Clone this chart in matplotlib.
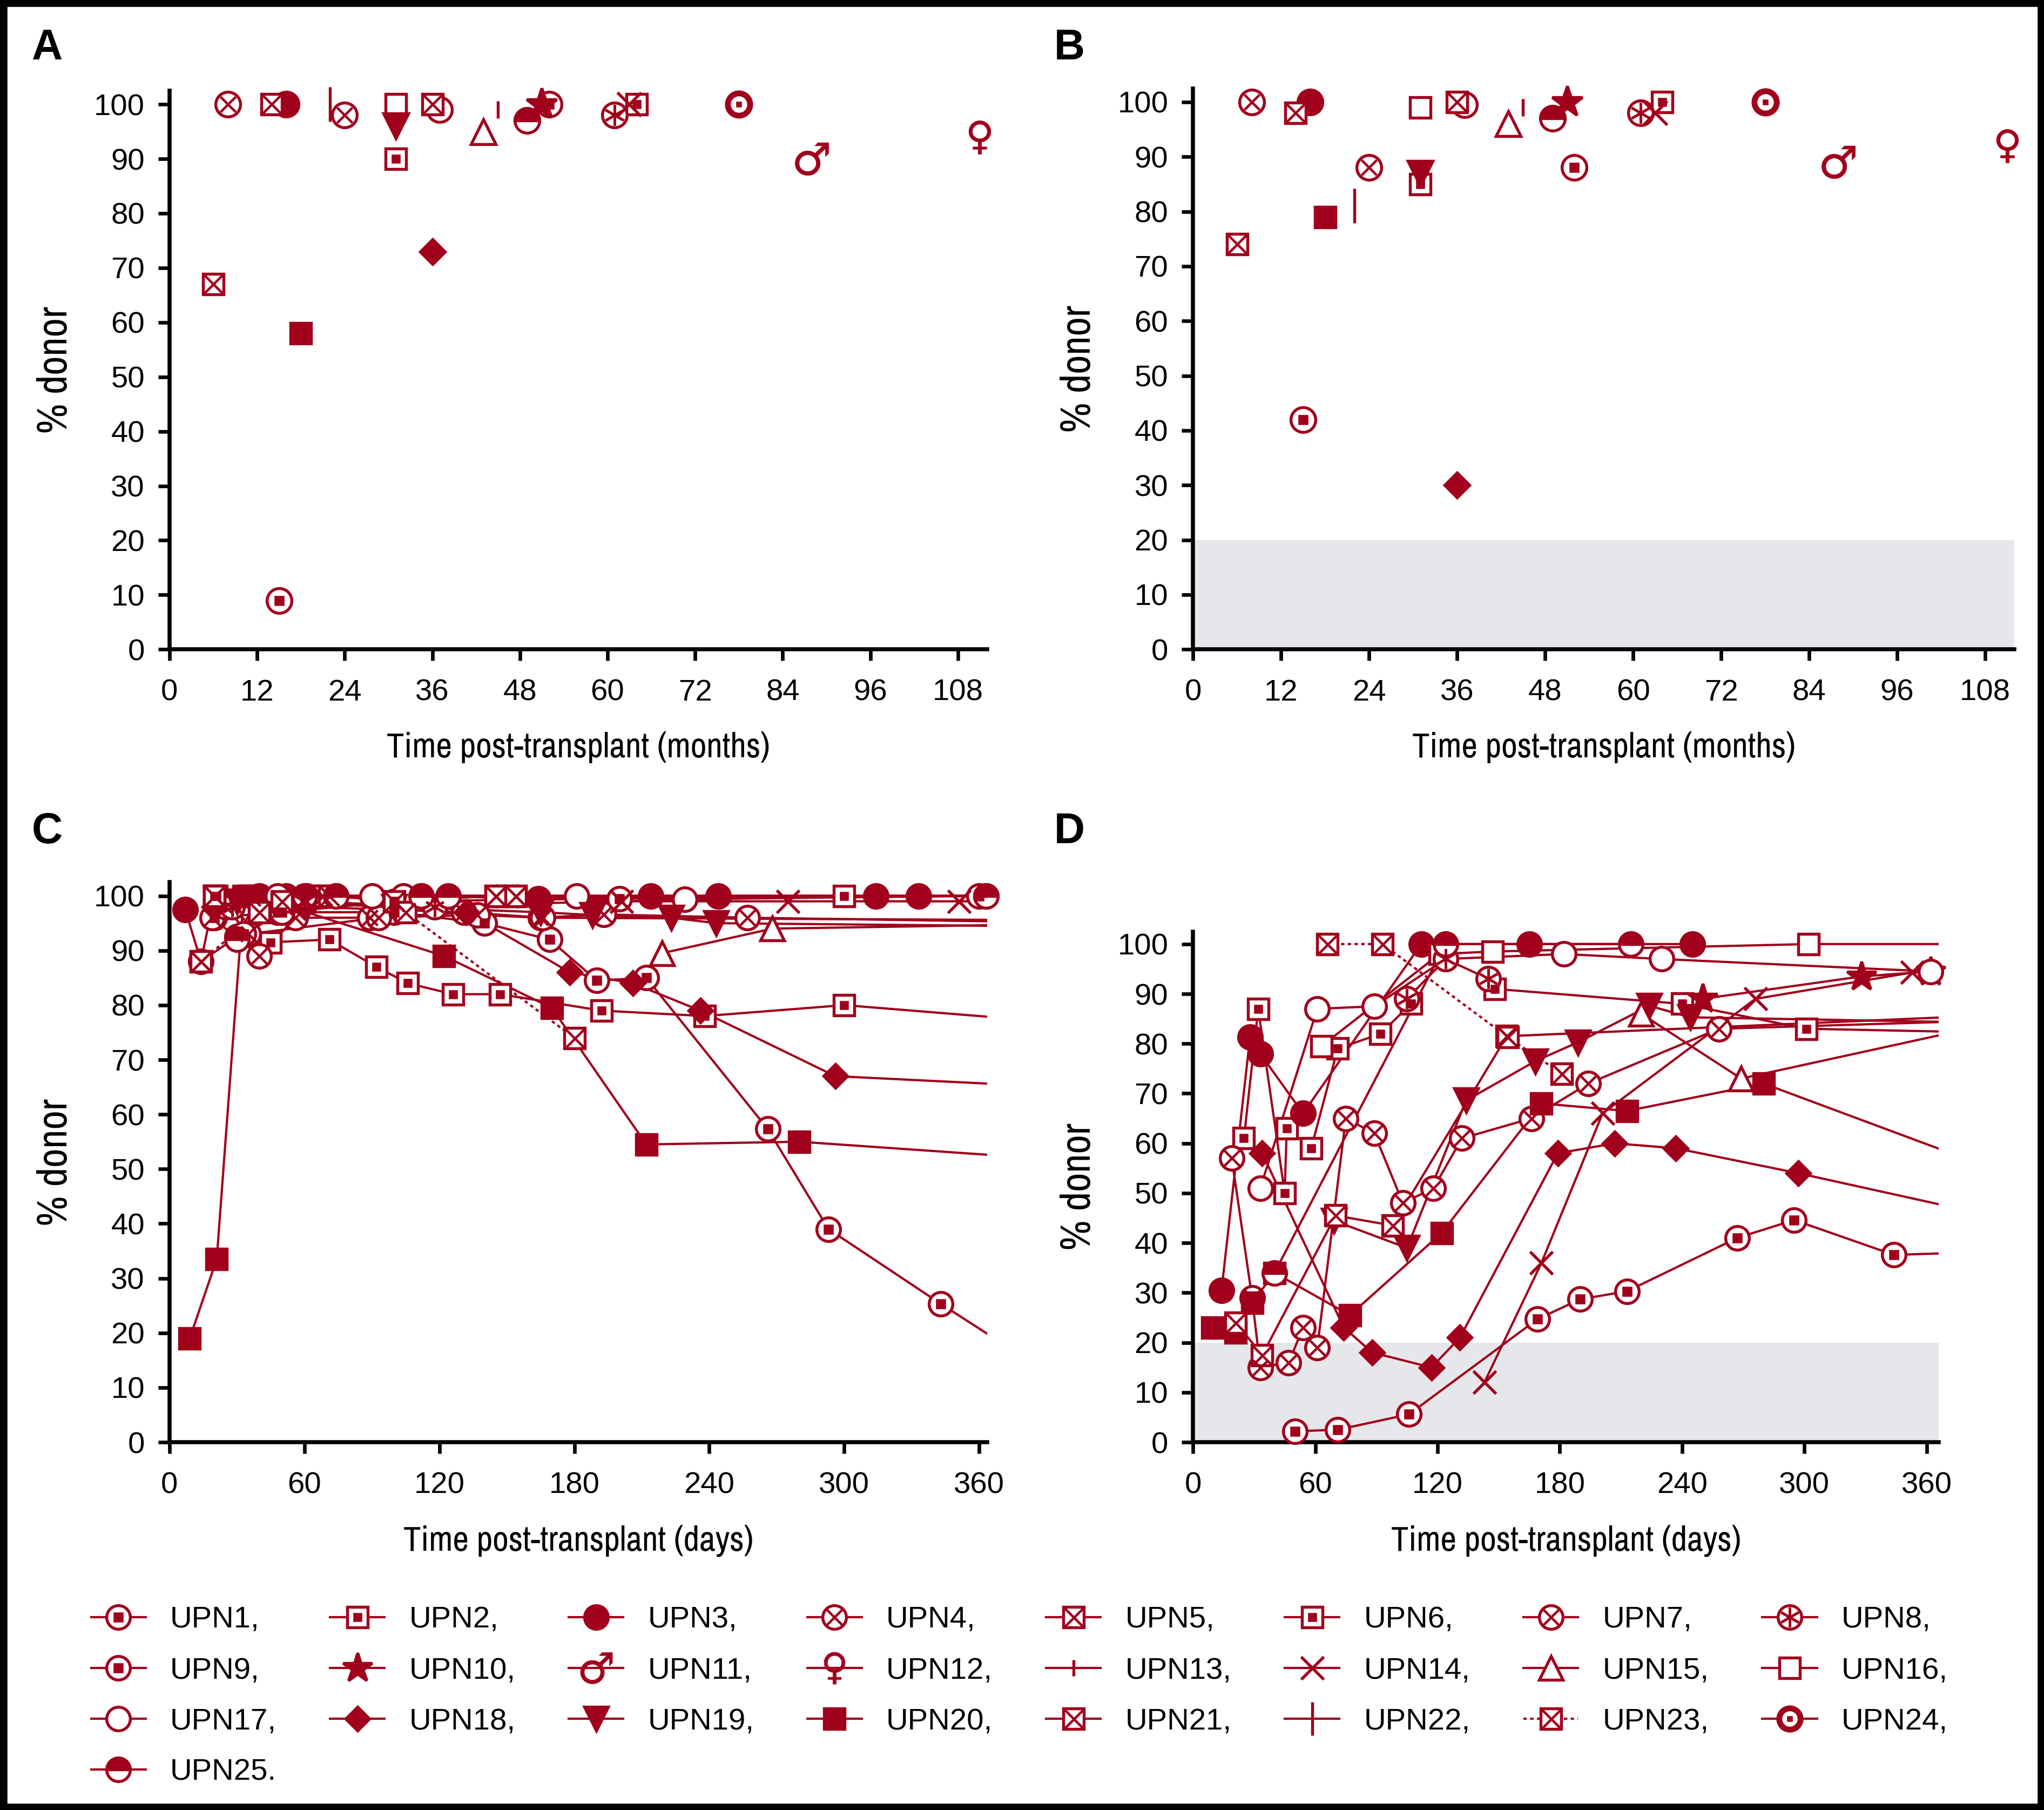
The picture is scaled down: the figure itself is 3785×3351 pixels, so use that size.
"""Donor chimerism per patient: static compartments (A, B) and kinetics (C, D)."""

import matplotlib
matplotlib.use("Agg")
import matplotlib.pyplot as plt
from matplotlib import font_manager
from matplotlib.legend_handler import HandlerTuple
from matplotlib.lines import Line2D
from matplotlib.patches import Rectangle

RED = "#a1001c"
BAND = "#e6e7ea"

# ---- panels A / B: last follow-up (months) and % donor, UPN1..UPN25 ----
UPN = list(range(1, 26))
AB_MONTHS = [52, 31, 16, 8, 14, 64, 24, 61, 15, 51, 88, 111, 45, 63, 43,
             31, 37, 36, 31, 18, 36, 22, 6, 78, 49]
A_PCT = [100, 90, 100, 100, 100, 100, 98, 98, 9, 100, 90, 94, 99, 100, 95,
         100, 99, 73, 96, 58, 100, 100, 67, 100, 97]
B_PCT = [88, 85, 100, 100, 98, 100, 88, 98, 42, 100, 89, 92, 99, 98, 96,
         99, 99.5, 30, 87, 79, 100, 81, 74, 100, 97]

# ---- panel C: days post-transplant / % donor ----
C_DAYS = {
    1: [20, 48, 100, 140, 169, 190, 212, 266, 293, 343, 420],
    2: [21, 45, 71, 92, 106, 126, 147, 192, 238, 300, 420],
    3: [7, 14, 30, 40, 52, 74, 112, 164, 214, 244, 314, 333, 420],
    4: [19, 40, 56, 89, 137, 165, 193, 257, 420],
    5: [14, 20, 36, 68, 145, 154, 420],
    6: [20, 35, 60, 100, 300, 420],
    7: [25, 35, 93, 131, 166, 420],
    8: [28, 60, 118],
    9: [33, 50, 100, 200, 360],
    14: [150, 201, 275, 351, 420],
    15: [219, 268, 420],
    16: [20, 35, 62, 70, 150, 420],
    17: [48, 61, 90, 104, 181, 229, 363],
    18: [20, 60, 132, 178, 206, 236, 296, 420],
    19: [30, 100, 165, 188, 223, 243, 420],
    20: [9, 21, 33, 38, 122, 170, 212, 280, 420],
    21: [20, 50, 68, 71, 100, 145, 154],
    23: [14, 40, 105, 180],
    25: [30, 60, 74, 112, 124, 363],
}
C_PCT = {
    1: [96, 97, 97, 95, 92, 84.5, 85, 57.3, 39, 25.3, 4.9],
    2: [100, 91.5, 92, 87, 84, 82, 82, 79, 78, 80, 76],
    3: [97.5, 88, 92.5, 100, 100, 100, 100, 99.5, 100, 100, 100, 100, 100],
    4: [96, 89, 96, 96, 96.5, 96, 96.6, 96, 95],
    5: [88, 100, 100, 100, 100, 100, 100],
    6: [100, 100, 99, 98, 100, 100],
    7: [98, 93, 96, 97, 96, 95.5],
    8: [98, 99, 98],
    9: [93, 97, 99, 99.5, 100],
    14: [100, 99, 99, 99, 99],
    15: [89.5, 94, 95],
    16: [100, 100, 100, 100, 100, 100],
    17: [100, 100, 100, 100, 100, 99.4, 100],
    18: [98, 98, 97, 86, 84, 79, 67, 64.5],
    19: [99, 98, 97, 96.5, 96, 95, 94.3],
    20: [19, 33.5, 100, 100, 89, 79.5, 54.5, 55, 51],
    21: [100, 99, 100, 100, 99, 100, 100],
    23: [88, 97, 97, 74],
    25: [92, 100, 100, 100, 100, 100],
}

# ---- panel D: days post-transplant / % donor ----
D_DAYS = {
    2: [25, 32, 45, 46, 58, 71, 92, 107],
    3: [14, 28, 33, 54, 112, 165, 245],
    4: [19, 29, 33, 47, 54],
    6: [148, 240, 301, 420],
    7: [61, 75, 89, 103, 118, 132, 166, 194, 258, 420],
    8: [105, 124, 145],
    9: [50, 71, 106, 169, 190, 213, 267, 295, 344, 420],
    10: [250, 328, 362],
    14: [143, 171, 201, 276, 353],
    15: [220, 269, 420],
    16: [63, 121, 147, 302, 420],
    17: [33, 61, 89, 124, 182, 230, 362],
    18: [34, 74, 88, 117, 131, 179, 207, 237, 297, 420],
    19: [69, 105, 134, 168, 189, 224, 244, 420],
    20: [9.5, 21, 29, 40, 77, 122, 171, 213, 280, 420],
    21: [21, 34, 70, 98, 154, 420],
    23: [66, 93, 154.5, 181],
    25: [40, 124, 215],
}
D_PCT = {
    2: [61, 87, 50, 63, 59, 79, 82, 88],
    3: [30.5, 81.3, 78, 66, 100, 100, 100],
    4: [57, 29, 15, 16, 23],
    6: [91, 88, 83, 82],
    7: [19, 65, 62, 48, 51, 61, 65, 72, 83, 85],
    8: [89, 97, 93],
    9: [2.2, 2.5, 5.6, 24.7, 28.7, 30.3, 41, 44.6, 37.6, 38.6],
    10: [89, 93.5, 94.5],
    14: [12, 36, 66, 89, 94.3],
    15: [86, 73, 86.5],
    16: [79.5, 98, 98.5, 100, 100],
    17: [51, 87, 87.5, 97, 98, 97, 94.5],
    18: [58, 23, 18, 15, 21, 58, 60, 59, 54, 42.9],
    19: [44.5, 39, 68.6, 76.5, 80.3, 87.6, 85.3, 84],
    20: [23, 22, 28, 34, 25.5, 42, 68, 66.5, 72, 50.7],
    21: [24, 17.5, 45.5, 43.5, 81.5, 86.2],
    23: [100, 100, 81.3, 74],
    25: [34, 100, 100],
}

# ---- marker styles per UPN ----
MARK = {1: "o", 2: "s", 3: "o", 4: "o", 5: "s", 6: "s", 7: "o", 8: "o", 9: "o",
        10: "*", 11: "$\u2642$", 12: "$\u2640$", 13: "|", 14: "x", 15: "^",
        16: "s", 17: "o", 18: "D", 19: "v", 20: "s", 21: "s", 22: "|", 23: "s",
        24: "o", 25: "o"}
SCALE = {2: 0.85, 5: 0.85, 6: 0.85, 16: 0.85, 20: 0.85, 21: 0.85, 23: 0.85,
         10: 1.3, 11: 1.35, 12: 1.35, 13: 0.7, 22: 1.4, 14: 0.95, 18: 0.72,
         24: 0.9}
SOLID = {3, 10, 18, 19, 20}
INNER = {1: ("s", 0.3), 2: ("s", 0.28), 4: ("x", 0.62), 5: ("x", 0.8),
         6: ("s", 0.28), 7: ("x", 0.62), 8: ((6, 2, 0), 0.85), 9: ("s", 0.3),
         21: ("x", 0.8), 23: ("x", 0.8), 24: ("s", 0.15)}

# fonts: regular sans for numbers, a narrow face for axis titles
names = {f.name for f in font_manager.fontManager.ttflist}
COND = next((n for n in ("Liberation Sans Narrow", "Archivo Narrow", "Roboto Condensed",
                         "Barlow Condensed") if n in names), "DejaVu Sans")
REG = "Liberation Sans" if "Liberation Sans" in names else "DejaVu Sans"
plt.rcParams["font.family"] = REG


def marker_kw(upn, ms):
    kw = dict(marker=MARK[upn], markersize=ms * SCALE.get(upn, 1.0),
              markeredgecolor=RED, markeredgewidth=1.3)
    if upn in SOLID:
        kw["markerfacecolor"] = RED
    elif upn == 25:
        kw.update(fillstyle="top", markerfacecolor=RED, markerfacecoloralt="white")
    else:
        kw["markerfacecolor"] = "white"
    if upn == 24:
        kw["markeredgewidth"] = 2.6
    if upn in (11, 12):
        kw.update(markerfacecolor=RED, markeredgewidth=0.2)
    return kw


def inner_kw(upn, ms):
    if upn not in INNER:
        return None
    m, f = INNER[upn]
    return dict(marker=m, markersize=ms * f, markerfacecolor=RED,
                markeredgecolor=RED, markeredgewidth=1.1)


def draw_markers(ax, upn, xs, ys, ms):
    ax.plot(xs, ys, ls="none", clip_on=False, zorder=3, **marker_kw(upn, ms))
    ikw = inner_kw(upn, ms)
    if ikw:
        ax.plot(xs, ys, ls="none", clip_on=False, zorder=3.1, **ikw)


def style_axes(ax, xmax, xticks, ymax=102.5):
    ax.set_xlim(0, xmax)
    ax.set_ylim(0, ymax)
    ax.set_xticks(xticks)
    ax.set_yticks(range(0, 101, 10))
    for s in ("top", "right"):
        ax.spines[s].set_visible(False)
    for s in ("left", "bottom"):
        ax.spines[s].set_linewidth(1.8)
    ax.tick_params(direction="out", length=5, width=1.6, labelsize=13.5,
                   colors="black")
    ax.tick_params(axis="x", pad=8)
    ax.tick_params(axis="y", pad=6)
    ax.set_ylabel("% donor", fontfamily=COND, fontsize=18.5, labelpad=9)


def series_panel(ax, days, pct, xmax, ms=10.5):
    for upn in days:
        x, y = days[upn], pct[upn]
        ax.plot(x, y, color=RED, lw=1.0, ls=(0, (1.5, 1.5)) if upn == 23 else "-",
                zorder=2)
        keep = [(a, b) for a, b in zip(x, y) if a <= xmax]
        draw_markers(ax, upn, [k[0] for k in keep], [k[1] for k in keep], ms)


fig = plt.figure(figsize=(3786 / 300, 3351 / 300), dpi=300)

axA = fig.add_axes([0.0829, 0.6412, 0.3999, 0.3087])
axB = fig.add_axes([0.5835, 0.6412, 0.4018, 0.3100])
axC = fig.add_axes([0.0829, 0.2032, 0.3999, 0.3094])
axD = fig.add_axes([0.5835, 0.2032, 0.3648, 0.2821])

for ax, pct in ((axA, A_PCT), (axB, B_PCT)):
    for upn, m, p in zip(UPN, AB_MONTHS, pct):
        draw_markers(ax, upn, [m], [p], 11)
    style_axes(ax, 112, range(0, 109, 12))
    ax.set_xlabel("Time post-transplant (months)", fontfamily=COND, fontsize=15.5,
                  labelpad=11)
axB.axhspan(0, 20, color=BAND, lw=0, zorder=0)

series_panel(axC, C_DAYS, C_PCT, 363.5)
style_axes(axC, 363.5, range(0, 361, 60))
axC.set_xlabel("Time post-transplant (days)", fontfamily=COND, fontsize=15.5,
               labelpad=11)

axD.axhspan(0, 20, color=BAND, lw=0, zorder=0)
series_panel(axD, D_DAYS, D_PCT, 366)
style_axes(axD, 366, range(0, 361, 60))
axD.set_xlabel("Time post-transplant (days)", fontfamily=COND, fontsize=15.5,
               labelpad=11)

for letter, (x, y) in zip("ABCD", ((36, 37), (820, 37), (36, 638), (820, 638))):
    fig.text(x / 1568, 1 - y / 1388, letter, fontsize=19, fontweight="bold",
             ha="center", va="center")

# legend, filled row by row (column-major order for matplotlib)
order = [c + 8 * r for c in range(8) for r in range(4) if c + 8 * r < 25]
handles, labels = [], []
for i in order:
    upn = UPN[i]
    line = Line2D([], [], color=RED, lw=1.0,
                  ls=(0, (1.5, 1.5)) if upn == 23 else "-", **marker_kw(upn, 10.5))
    ikw = inner_kw(upn, 10.5)
    handles.append((line, Line2D([], [], ls="none", **ikw)) if ikw else line)
    labels.append(f"UPN{upn}" + ("." if upn == 25 else ","))

fig.legend(handles, labels, ncol=8, loc="upper left",
           bbox_to_anchor=(0.0446, 0.0, 0.908, 0.1127), mode="expand",
           frameon=False, fontsize=13.5, handlelength=1.8, handletextpad=0.8,
           labelspacing=0.75, borderpad=0, borderaxespad=0,
           handler_map={tuple: HandlerTuple(ndivide=1)})

fig.patches.append(Rectangle((0.0015, 0.0015), 0.997, 0.997, transform=fig.transFigure,
                             fill=False, ec="black", lw=3.5))

fig.savefig("out.png", dpi=300)
